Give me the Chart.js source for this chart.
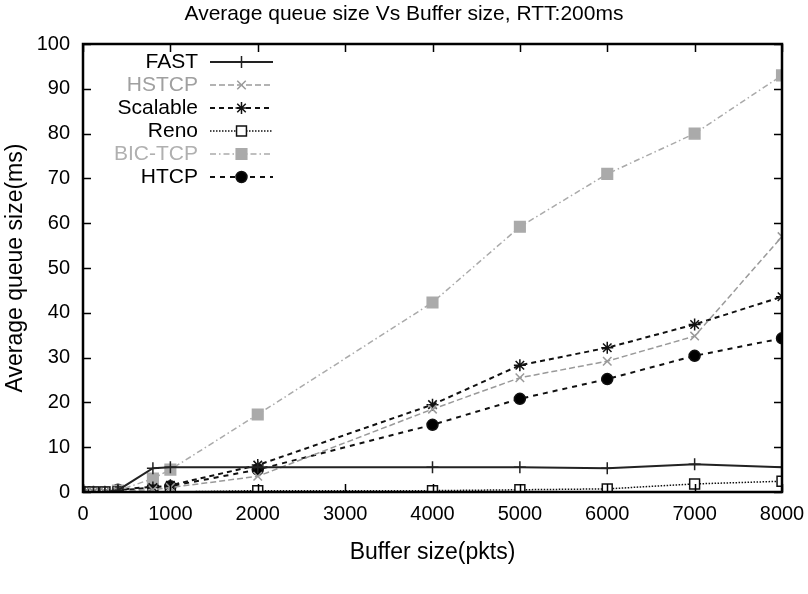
<!DOCTYPE html>
<html>
<head>
<meta charset="utf-8">
<script src="https://cdn.jsdelivr.net/npm/chart.js@4.4.1/dist/chart.umd.min.js"></script>
<style>
  html, body { margin: 0; padding: 0; background: #fff; }
  #wrap { width: 808px; height: 594px; }
</style>
</head>
<body>
<div id="wrap"><canvas id="queueChart" width="808" height="594"></canvas></div>
<script>
// buffer sizes (pkts) and average queue size (ms) per protocol
var bufferSizes = [20, 120, 250, 400, 800, 1000, 2000, 4000, 5000, 6000, 7000, 8000];
var fastQueue     = [0, 0, 0, 0.4, 5.3, 5.5, 5.5, 5.5, 5.5, 5.3, 6.2, 5.5];
var hstcpQueue    = [0, 0, 0, 0.2, 0.5, 1.0, 3.5, 18.5, 25.5, 29.2, 34.8, 57.0];
var scalableQueue = [0, 0, 0, 0.3, 1.0, 1.5, 6.0, 19.5, 28.3, 32.2, 37.4, 43.6];
var renoQueue     = [0, 0, 0, 0, 0, 0, 0.3, 0.3, 0.5, 0.7, 1.8, 2.4];
var bicQueue      = [0, 0, 0, 0.3, 3.0, 5.0, 17.3, 42.3, 59.2, 71.0, 80.0, 93.0];
var htcpQueue     = [0, 0, 0, 0.5, 1.2, 1.3, 5.0, 15.0, 20.8, 25.2, 30.4, 34.3];
var protocolNames = ['FAST', 'HSTCP', 'Scalable', 'Reno', 'BIC-TCP', 'HTCP'];
var xTicks = [0, 1000, 2000, 3000, 4000, 5000, 6000, 7000, 8000];
var yTicks = [0, 10, 20, 30, 40, 50, 60, 70, 80, 90, 100];
var chartTitle = 'Average queue size Vs Buffer size, RTT:200ms';

var FONT = '"Liberation Sans", Arial, Helvetica, sans-serif';

function toPoints(values) {
    return bufferSizes.map(function (b, i) { return { x: b, y: values[i] }; });
}

// gnuplot-like look of each series
var styles = [
    { color: '#222222', text: '#000000', dash: [],             width: 2,   point: 'cross',    radius: 6,   fill: '#222222' },
    { color: '#9a9a9a', text: '#a0a0a0', dash: [6, 3],         width: 1.5, point: 'crossRot', radius: 6,   fill: '#9a9a9a' },
    { color: '#111111', text: '#000000', dash: [5, 4],         width: 2,   point: 'star',     radius: 6,   fill: '#111111' },
    { color: '#111111', text: '#000000', dash: [1.5, 1.5],     width: 1.5, point: 'rect',     radius: 7,   fill: '#ffffff' },
    { color: '#aaaaaa', text: '#b0b0b0', dash: [6, 3, 1.5, 3], width: 1.5, point: 'rect',     radius: 7.5, fill: '#aaaaaa' },
    { color: '#111111', text: '#000000', dash: [5, 5],         width: 2,   point: 'circle',   radius: 5.5, fill: '#000000' }
];

var seriesValues = [fastQueue, hstcpQueue, scalableQueue, renoQueue, bicQueue, htcpQueue];

var datasets = seriesValues.map(function (vals, i) {
    var s = styles[i];
    return {
        label: protocolNames[i],
        data: toPoints(vals),
        borderColor: s.color,
        borderWidth: s.width,
        borderDash: s.dash,
        pointStyle: s.point,
        pointRadius: s.radius,
        pointBorderColor: s.point === 'rect' && s.fill !== '#ffffff' ? s.fill : s.color,
        pointBackgroundColor: s.fill,
        pointBorderWidth: 1.5,
        fill: false,
        tension: 0
    };
});

// frame + inward ticks mirrored on all sides (gnuplot style)
var framePlugin = {
    id: 'frame',
    afterDatasetsDraw: function (chart) {
        var ctx = chart.ctx, a = chart.chartArea;
        var xs = chart.scales.x, ys = chart.scales.y;
        var len = 8;
        ctx.save();
        ctx.strokeStyle = '#000';
        ctx.lineWidth = 1.5;
        xTicks.forEach(function (v) {
            var px = Math.round(xs.getPixelForValue(v)) + 0.5;
            ctx.beginPath();
            ctx.moveTo(px, a.bottom); ctx.lineTo(px, a.bottom - len);
            ctx.moveTo(px, a.top); ctx.lineTo(px, a.top + len);
            ctx.stroke();
        });
        yTicks.forEach(function (v) {
            var py = Math.round(ys.getPixelForValue(v)) + 0.5;
            ctx.beginPath();
            ctx.moveTo(a.left, py); ctx.lineTo(a.left + len, py);
            ctx.moveTo(a.right, py); ctx.lineTo(a.right - len, py);
            ctx.stroke();
        });
        ctx.lineWidth = 2.5;
        ctx.strokeRect(a.left, a.top, a.right - a.left, a.bottom - a.top);
        ctx.restore();
    }
};

// title centred on the whole page, key inside the plot
var keyPlugin = {
    id: 'key',
    afterDraw: function (chart) {
        var ctx = chart.ctx;
        ctx.save();
        ctx.font = '21px ' + FONT;
        ctx.fillStyle = '#000';
        ctx.textAlign = 'center';
        ctx.textBaseline = 'middle';
        ctx.fillText(chartTitle, chart.width / 2, 14);

        var textRight = 198, lineL = 210, lineR = 273, top = 62, step = 23;
        ctx.textAlign = 'right';
        chart.data.datasets.forEach(function (ds, i) {
            var y = top + i * step;
            var s = styles[i];
            ctx.fillStyle = s.text;
            ctx.fillText(ds.label, textRight, y);
            ctx.strokeStyle = ds.borderColor;
            ctx.lineWidth = ds.borderWidth;
            ctx.setLineDash(ds.borderDash);
            ctx.beginPath();
            ctx.moveTo(lineL, y); ctx.lineTo(lineR, y);
            ctx.stroke();
            ctx.setLineDash([]);
            ctx.strokeStyle = ds.pointBorderColor;
            ctx.fillStyle = ds.pointBackgroundColor;
            ctx.lineWidth = ds.pointBorderWidth;
            Chart.helpers.drawPoint(ctx, {
                pointStyle: ds.pointStyle, radius: ds.pointRadius, rotation: 0, borderWidth: ds.pointBorderWidth
            }, (lineL + lineR) / 2, y);
        });
        ctx.restore();
    }
};

function plainNumber(value) { return String(value); }

document.addEventListener('DOMContentLoaded', function () {
    var ctx = document.getElementById('queueChart').getContext('2d');
    new Chart(ctx, {
        type: 'line',
        data: { datasets: datasets },
        options: {
            responsive: false,
            animation: false,
            layout: { padding: { left: 0, right: 26, top: 44, bottom: 0 } },
            plugins: {
                legend: { display: false },
                tooltip: { enabled: false },
                title: { display: false }
            },
            scales: {
                x: {
                    type: 'linear',
                    min: 0, max: 8000,
                    afterBuildTicks: function (scale) {
                        scale.ticks = xTicks.map(function (v) { return { value: v }; });
                    },
                    afterFit: function (scale) { scale.height = 102; },
                    grid: { display: false },
                    border: { display: false },
                    ticks: { color: '#000', padding: 2, maxRotation: 0, callback: plainNumber,
                             font: { family: FONT, size: 20 } },
                    title: {
                        display: true, text: 'Buffer size(pkts)', color: '#000',
                        font: { family: FONT, size: 23 }, padding: { top: 0, bottom: 28 }
                    }
                },
                y: {
                    min: 0, max: 100,
                    afterBuildTicks: function (scale) {
                        scale.ticks = yTicks.map(function (v) { return { value: v }; });
                    },
                    afterFit: function (scale) { scale.width = 83; },
                    grid: { display: false },
                    border: { display: false },
                    ticks: { color: '#000', padding: 5, callback: plainNumber,
                             font: { family: FONT, size: 20 } },
                    title: {
                        display: true, text: 'Average queue size(ms)', color: '#000',
                        font: { family: FONT, size: 23 }, padding: { top: 2, bottom: 0 }
                    }
                }
            }
        },
        plugins: [framePlugin, keyPlugin]
    });
});
</script>
</body>
</html>
